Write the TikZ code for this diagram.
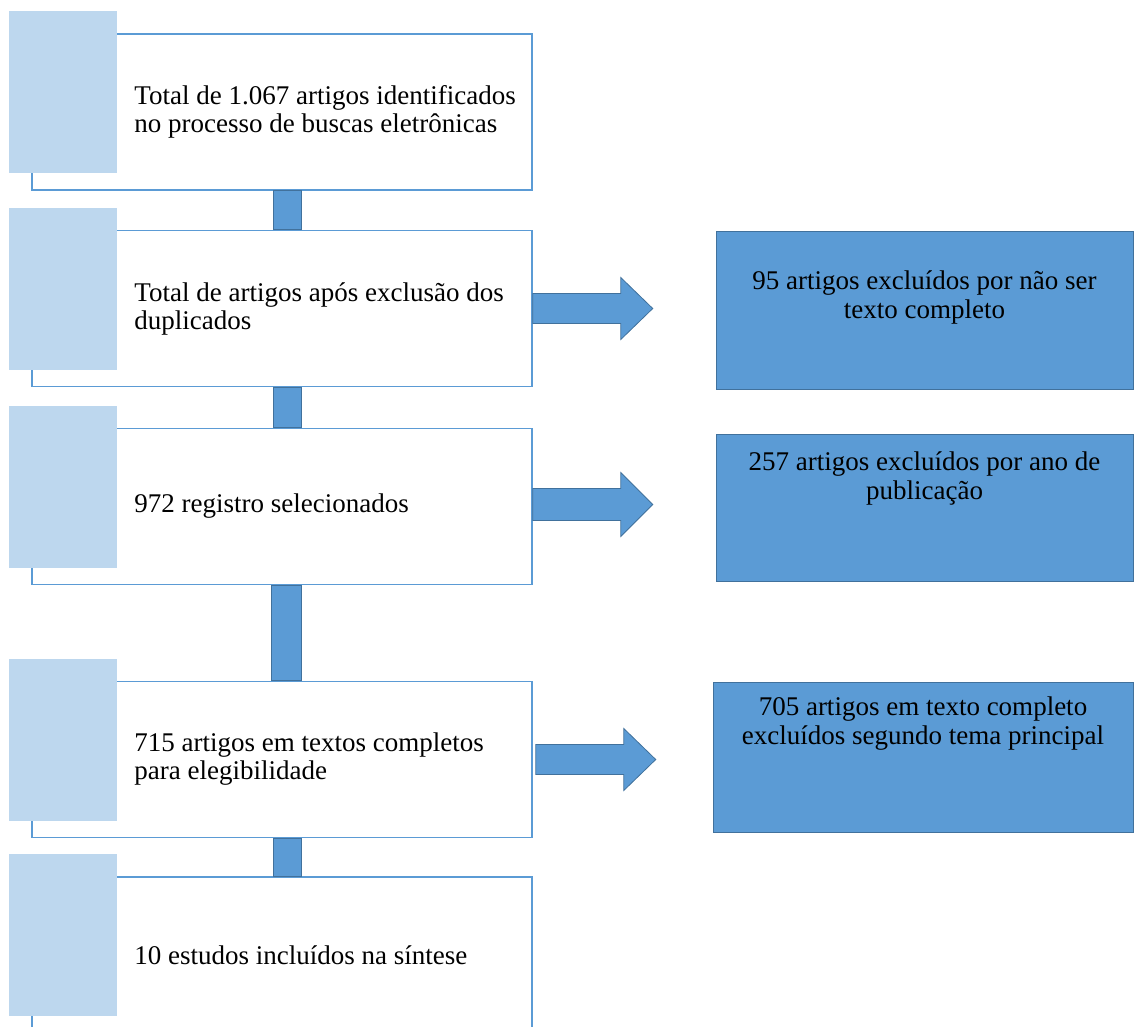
\documentclass[tikz,border=0pt]{standalone}
\usepackage{fontspec}
\setmainfont{Liberation Serif}
\usepackage{xcolor}
\usepackage{tikz}
\usetikzlibrary{calc}
\definecolor{tabblue}{HTML}{BDD7EE}
\definecolor{lineblue}{HTML}{5B9BD5}
\definecolor{edgeblue}{HTML}{41719C}

\begin{document}
\begin{tikzpicture}[x=1pt, y=-1pt,
	stepbox/.style={draw=lineblue, line width=1.5pt, fill=white, minimum width=500pt, minimum height=156pt, inner sep=0pt},
	tabbox/.style={fill=tabblue, minimum width=108pt, minimum height=162pt, inner sep=0pt, anchor=north west},
	steptext/.style={anchor=west, align=left, inner sep=0pt, font=\fontsize{27}{28}\selectfont},
	exclbox/.style={draw=edgeblue, line width=1pt, fill=lineblue, inner sep=0pt},
	excltext/.style={align=center, inner sep=0pt, font=\fontsize{27}{29}\selectfont},
	link/.style={draw=edgeblue, line width=1pt, fill=lineblue},
	blockarrow/.style={draw=edgeblue, line width=0.8pt, fill=lineblue, line join=miter}]
	\useasboundingbox (0, 0) rectangle (1134, 1026);
	\clip (0, 0) rectangle (1134, 1026);
	% main steps
	\node[stepbox] (b1) at (282, 112) {};
	\node[stepbox] (b2) at (282, 308.5) {};
	\node[stepbox] (b3) at (282, 506.5) {};
	\node[stepbox] (b4) at (282, 759.5) {};
	\node[stepbox] (b5) at (282, 955) {};
	\node[tabbox] (t1) at ($(b1.north west)+(-22, -22)$) {};
	\node[tabbox] (t2) at ($(b2.north west)+(-22, -22)$) {};
	\node[tabbox] (t3) at ($(b3.north west)+(-22, -22)$) {};
	\node[tabbox] (t4) at ($(b4.north west)+(-22, -22)$) {};
	\node[tabbox] (t5) at ($(b5.north west)+(-22, -22)$) {};
	\node[steptext] (l1) at ($(b1.west)+(103, 0)$) {Total de 1.067 artigos identificados\\no processo de buscas eletrônicas};
	\node[steptext] (l2) at ($(b2.west)+(103, 0)$) {Total de artigos após exclusão dos\\duplicados};
	\node[steptext] (l3) at ($(b3.west)+(103, 0)$) {972 registro selecionados};
	\node[steptext] (l4) at ($(b4.west)+(103, 0)$) {715 artigos em textos completos\\para elegibilidade};
	\node[steptext] (l5) at ($(b5.west)+(103, 0)$) {10 estudos incluídos na síntese};
	% links between steps
	\draw[link] ([xshift=-9pt]b1.south) rectangle ([xshift=19pt]b2.north);
	\draw[link] ([xshift=-9pt]b2.south) rectangle ([xshift=19pt]b3.north);
	\draw[link] ([xshift=-11pt]b3.south) rectangle ([xshift=19pt]b4.north);
	\draw[link] ([xshift=-9pt]b4.south) rectangle ([xshift=19pt]b5.north);
	% exclusions
	\node[exclbox, minimum width=417pt, minimum height=158pt] (rA) at (924.5, 310) {};
	\node[exclbox, minimum width=417pt, minimum height=147pt] (rB) at (924.5, 507.5) {};
	\node[exclbox, minimum width=420pt, minimum height=150pt] (rC) at (923, 757) {};
	\node[excltext] (eA) at ($(rA.north)+(0, 67)$) {95 artigos excluídos por não ser\\texto completo};
	\node[excltext] (eB) at ($(rB.north)+(0, 45)$) {257 artigos excluídos por ano de\\publicação};
	\node[excltext] (eC) at ($(rC.north)+(0, 42)$) {705 artigos em texto completo\\excluídos segundo tema principal};
	\draw[blockarrow] ($(b2.east)+(0, -15)$) -- ++(88, 0) -- ++(0, -16) -- ++(32, 31) -- ++(-32, 31) -- ++(0, -16) -- ++(-88, 0) -- cycle;
	\draw[blockarrow] ($(b3.east)+(0, -18)$) -- ++(88, 0) -- ++(0, -16) -- ++(32, 32) -- ++(-32, 32) -- ++(0, -16) -- ++(-88, 0) -- cycle;
	\draw[blockarrow] ($(b4.east)+(3, -15)$) -- ++(88, 0) -- ++(0, -16) -- ++(32, 31) -- ++(-32, 31) -- ++(0, -16) -- ++(-88, 0) -- cycle;
\end{tikzpicture}
\end{document}
